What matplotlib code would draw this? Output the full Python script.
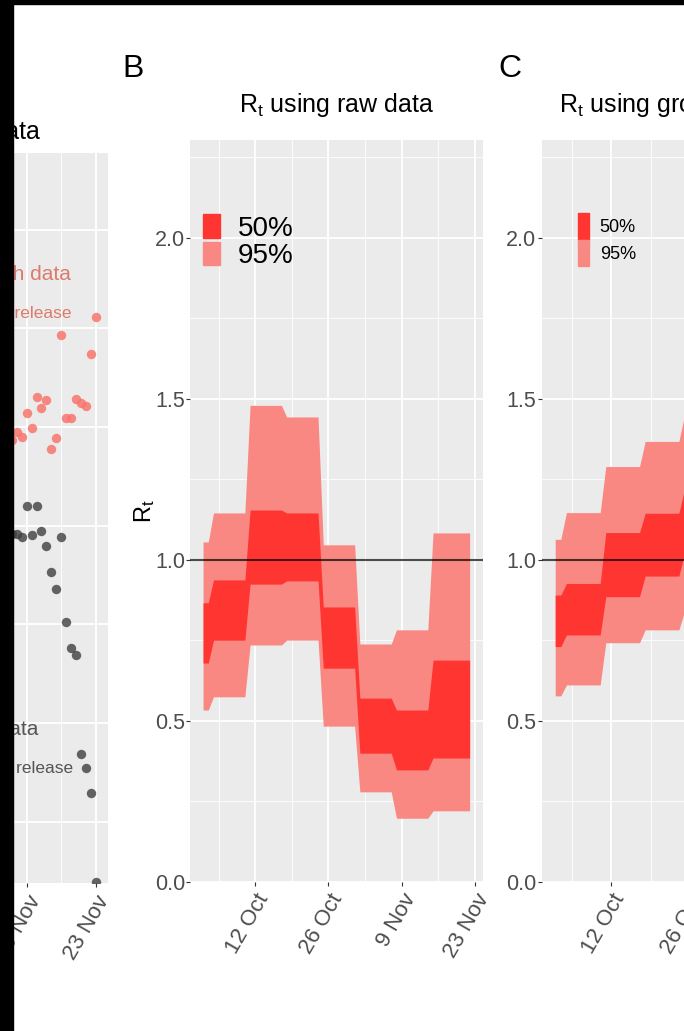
import numpy as np
import matplotlib
matplotlib.use('Agg')
import matplotlib.pyplot as plt
import matplotlib.dates as mdates
from matplotlib.patches import Rectangle, Patch

W, H = 684, 1031
plt.rcParams['font.family'] = ['Liberation Sans', 'DejaVu Sans']
plt.rcParams['mathtext.fontset'] = 'custom'
plt.rcParams['mathtext.rm'] = 'Liberation Sans'
plt.rcParams['mathtext.it'] = 'Liberation Sans'

# --- panel A: daily values (arbitrary units) ---
a_dates = np.arange('2020-11-06', '2020-11-24', dtype='datetime64[D]')
a_growth = [3.87, 3.95, 3.90, 4.14, 3.99, 4.30, 4.19, 4.27, 3.78, 3.89,
            4.93, 4.09, 4.09, 4.28, 4.24, 4.21, 4.74, 5.12]
a_raw = [2.92, 2.92, 2.89, 3.20, 2.91, 3.20, 2.95, 2.79, 2.53, 2.36,
         2.89, 2.02, 1.76, 1.69, 0.69, 0.54, 0.29, -0.61]

# --- panel B: Rt from raw data, weekly blocks ---
raw_start = ['2020-10-02', '2020-10-04', '2020-10-11', '2020-10-18',
             '2020-10-25', '2020-11-01', '2020-11-08', '2020-11-15']
raw_end = ['2020-10-03', '2020-10-10', '2020-10-17', '2020-10-24',
           '2020-10-31', '2020-11-07', '2020-11-14', '2020-11-22']
raw_lo95 = [0.534, 0.575, 0.736, 0.751, 0.484, 0.280, 0.198, 0.221]
raw_lo50 = [0.680, 0.751, 0.925, 0.935, 0.664, 0.400, 0.348, 0.385]
raw_hi50 = [0.867, 0.938, 1.155, 1.146, 0.854, 0.571, 0.534, 0.689]
raw_hi95 = [1.056, 1.146, 1.480, 1.444, 1.047, 0.739, 0.783, 1.084]

# --- panel C: Rt from growth rate data ---
gr_start = ['2020-10-02', '2020-10-04', '2020-10-11', '2020-10-18', '2020-10-25']
gr_end = ['2020-10-03', '2020-10-10', '2020-10-17', '2020-10-24', '2020-10-31']
gr_lo95 = [0.578, 0.612, 0.743, 0.783, 0.840]
gr_lo50 = [0.731, 0.767, 0.886, 0.950, 1.020]
gr_hi50 = [0.891, 0.927, 1.085, 1.145, 1.220]
gr_hi95 = [1.064, 1.147, 1.290, 1.368, 1.450]

C50, C95 = '#FF3532', '#F98882'
PANEL = '#EBEBEB'
TICK_COL = '#4D4D4D'

major_dates = mdates.datestr2num(['2020-10-12', '2020-10-26', '2020-11-09', '2020-11-23'])
minor_dates = mdates.datestr2num(['2020-10-05', '2020-10-19', '2020-11-02', '2020-11-16', '2020-11-30'])
date_labels = ['12 Oct', '26 Oct', '9 Nov', '23 Nov']

fig = plt.figure(figsize=(W / 100, H / 100), dpi=100, facecolor='white')


def px_axes(left, top, right, bottom):
    return fig.add_axes([left / W, 1 - bottom / H, (right - left) / W, (bottom - top) / H])


def gg_style(ax):
    ax.set_facecolor(PANEL)
    for s in ax.spines.values():
        s.set_visible(False)
    ax.set_xticks(major_dates)
    ax.set_xticks(minor_dates, minor=True)
    ax.set_xticklabels(date_labels, rotation=60, ha='right', va='top',
                       rotation_mode='anchor', fontsize=16, color=TICK_COL)
    ax.grid(which='major', color='white', lw=1.3)
    ax.grid(which='minor', color='white', lw=0.6)
    ax.set_axisbelow(True)
    ax.tick_params(which='major', length=3, width=0.8, color='#333333', pad=3,
                   labelcolor=TICK_COL)
    ax.tick_params(axis='y', labelsize=15.5, pad=1)
    ax.tick_params(which='minor', length=0)


def blocks(start, end, *cols):
    x = mdates.datestr2num(np.ravel(np.column_stack([start, end])))
    return [x] + [np.repeat(c, 2) for c in cols]


def rt_panel(ax, start, end, lo95, lo50, hi50, hi95, title, legend_size, hl, hh, tp, anchor):
    x, l95, l50, h50, h95 = blocks(start, end, lo95, lo50, hi50, hi95)
    ax.fill_between(x, l95, h95, color=C95, lw=0)
    ax.fill_between(x, l50, h50, color=C50, lw=0)
    ax.axhline(1.0, color='black', alpha=0.7, lw=1.5)
    gg_style(ax)
    ax.set_ylim(0, 2.304)
    ax.set_yticks([0, 0.5, 1.0, 1.5, 2.0])
    ax.set_yticks([0.25, 0.75, 1.25, 1.75, 2.25], minor=True)
    ax.set_yticklabels(['0.0', '0.5', '1.0', '1.5', '2.0'])
    ax.set_xlim(mdates.datestr2num('2020-09-29') + 0.6, mdates.datestr2num('2020-11-24') + 0.5)
    ax.set_title(title, fontsize=18, pad=20)
    ax.legend(handles=[Patch(color=C50), Patch(color=C95)], labels=['50%', '95%'],
              loc='upper left', bbox_to_anchor=anchor, frameon=False,
              prop={'size': legend_size},
              handlelength=hl, handleheight=hh, handletextpad=tp,
              labelspacing=0, borderpad=0, borderaxespad=0)


# panel A (only its right part is inside the frame)
axA = px_axes(-184, 152.7, 108.3, 883.3)
axA.scatter(a_dates, a_growth, s=46, color='#F8766D', alpha=0.85, lw=0, zorder=3)
axA.scatter(a_dates, a_raw, s=46, color='#3F3F3F', alpha=0.8, lw=0, zorder=3)
gg_style(axA)
axA.set_xlim(mdates.datestr2num('2020-11-23') + 2.56 - 59.3, mdates.datestr2num('2020-11-23') + 2.56)
axA.set_ylim(-0.624, 6.78)
axA.set_yticks(range(0, 7))
axA.set_yticklabels([])
axA.text(mdates.datestr2num('2020-11-18'), 5.49, 'Growth data', ha='right', fontsize=15, color='#DC7B6C')
axA.text(mdates.datestr2num('2020-11-18'), 5.10, 'Jan 2021 release', ha='right', fontsize=12.5, color='#DC7B6C')
axA.text(mdates.datestr2num('2020-11-11') + 0.3, 0.88, 'Raw data', ha='right', fontsize=15, color='#555555')
axA.text(mdates.datestr2num('2020-11-18') + 0.4, 0.49, 'Dec 2020 release', ha='right', fontsize=12.5, color='#555555')
axA.text(224 / 292.3, 1.0 + 14 / 730.6, 'Reported data', transform=axA.transAxes,
         ha='right', va='baseline', fontsize=18)

# panel B
axB = px_axes(190.5, 140, 482.7, 882)
rt_panel(axB, raw_start, raw_end, raw_lo95, raw_lo50, raw_hi50, raw_hi95,
         r'R$_\mathrm{t}$ using raw data', 20, 0.6, 0.95, 0.65,
         ((203 - 190.5) / 292.2, 1 - (214 - 140) / 742))
axB.set_ylabel(r'R$_\mathrm{t}$', fontsize=17)
axB.yaxis.set_label_coords((157 - 190.5) / 292.2, 0.5)

# panel C (runs past the right edge)
axC = px_axes(541.7, 140, 856.0, 882)
rt_panel(axC, gr_start, gr_end, gr_lo95, gr_lo50, gr_hi50, gr_hi95,
         r'R$_\mathrm{t}$ using growth rate data', 13, 0.6, 1.9, 0.6,
         ((578 - 541.7) / 314.3, 1 - (213 - 140) / 742))

fig.text(122 / W, 1 - 77 / H, 'B', fontsize=23, va='baseline')
fig.text(498 / W, 1 - 77 / H, 'C', fontsize=23, va='baseline')

# dark frame along the top and left edges
fig.add_artist(Rectangle((0, 0), 13.3 / W, 1, transform=fig.transFigure, color='black', zorder=10))
fig.add_artist(Rectangle((0, 1 - 4 / H), 1, 4 / H, transform=fig.transFigure, color='black', zorder=10))

fig.savefig('out.png', dpi=100, facecolor='white')
